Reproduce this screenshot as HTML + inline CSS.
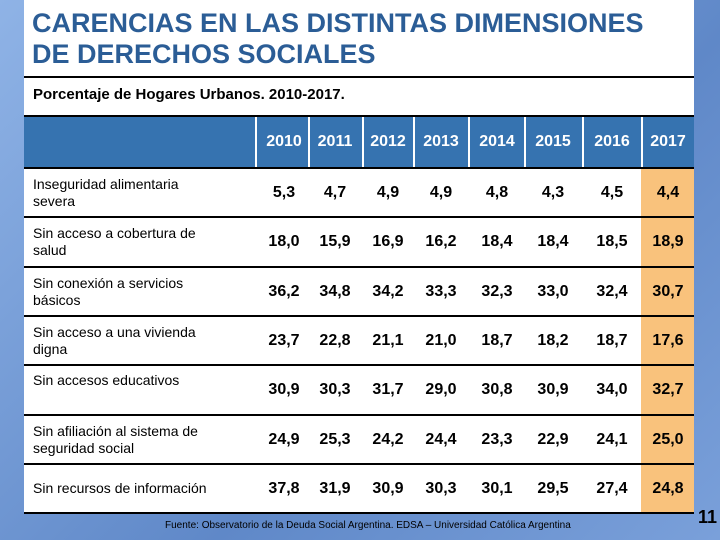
<!DOCTYPE html>
<html><head><meta charset="utf-8"><style>
body{margin:0;width:720px;height:540px;overflow:hidden;position:relative;font-family:"Liberation Sans",sans-serif;background:linear-gradient(135deg,#8fb3e6,#5f88c8 60%,#7aa0da);}
.panel{position:absolute;left:24px;top:0;width:670px;height:513px;background:#fff;}
.abs{position:absolute;}
.title{left:32px;top:8px;font-size:27px;font-weight:bold;color:#2b5d96;line-height:31px;}
.sub{left:33px;top:86px;font-size:15px;font-weight:bold;}
.hline{position:absolute;left:24px;width:670px;height:2px;background:#000;}
.head{left:24px;top:115px;width:670px;height:53px;background:#3673b0;border-top:2px solid #000;box-sizing:border-box;}
.yr{position:absolute;top:133px;color:#fff;font-weight:bold;font-size:16px;text-align:center;width:50px;}
.sep{position:absolute;top:117px;width:2px;height:51px;background:#fff;}
.orange{left:641px;top:168px;width:53px;height:345px;background:#f9c27c;}
.lab{position:absolute;left:33px;font-size:14px;line-height:17px;}
.val{position:absolute;font-size:16px;font-weight:bold;width:50px;text-align:center;}
</style></head><body>
<div class="panel"></div>
<div class="abs title">CARENCIAS EN LAS DISTINTAS DIMENSIONES<br>DE DERECHOS SOCIALES</div>
<div class="hline" style="top:76px"></div>
<div class="abs sub">Porcentaje de Hogares Urbanos. 2010-2017.</div>
<div class="abs orange"></div>
<div class="abs head"></div>
<div id="t"></div>
<div class="abs" style="left:165px;top:520px;font-size:10px;color:#000">Fuente: Observatorio de la Deuda Social Argentina. EDSA – Universidad Católica Argentina</div>
<div class="abs" style="left:698px;top:507px;font-size:18px;font-weight:bold;color:#000">11</div>
<script>
const years=["2010","2011","2012","2013","2014","2015","2016","2017"];
const labels=["Inseguridad alimentaria<br>severa","Sin acceso a cobertura de<br>salud","Sin conexión a servicios<br>básicos","Sin acceso a una vivienda<br>digna","Sin accesos educativos","Sin afiliación al sistema de<br>seguridad social","Sin recursos de información"];
const values=[
["5,3","4,7","4,9","4,9","4,8","4,3","4,5","4,4"],
["18,0","15,9","16,9","16,2","18,4","18,4","18,5","18,9"],
["36,2","34,8","34,2","33,3","32,3","33,0","32,4","30,7"],
["23,7","22,8","21,1","21,0","18,7","18,2","18,7","17,6"],
["30,9","30,3","31,7","29,0","30,8","30,9","34,0","32,7"],
["24,9","25,3","24,2","24,4","23,3","22,9","24,1","25,0"],
["37,8","31,9","30,9","30,3","30,1","29,5","27,4","24,8"]];
const cx=[284,335,388,441,497,553,612,668];
const seps=[255,308,362,413,468,524,582,641];
const t=document.getElementById('t');
seps.forEach(x=>{const d=document.createElement('div');d.className='sep';d.style.left=x+'px';

t.appendChild(d);});
years.forEach((y,i)=>{const d=document.createElement('div');d.className='yr';d.style.left=(cx[i]-25)+'px';d.textContent=y;

t.appendChild(d);});
const top0=168,rh=49.3;
for(let r=0;r<=labels.length;r++){const l=document.createElement('div');l.className='hline';l.style.top=Math.round(top0+r*rh-1)+'px';

t.appendChild(l);}
labels.forEach((lab,r)=>{const y=top0+r*rh;const d=document.createElement('div');d.className='lab';d.innerHTML=lab;
const two=lab.includes('<br>');d.style.top=(y+(two?8:(r==4?7:16)))+'px';

t.appendChild(d);
values[r].forEach((v,i)=>{const e=document.createElement('div');e.className='val';e.style.left=(cx[i]-25)+'px';e.style.top=(y+16)+'px';e.textContent=v;

t.appendChild(e);});});
</script>
</body></html>
